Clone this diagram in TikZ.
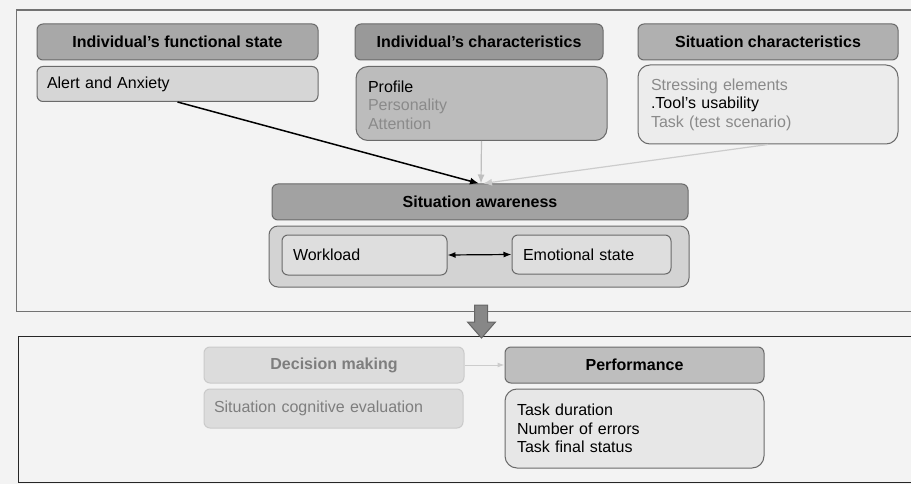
\documentclass[tikz,border=0pt]{standalone}
\usepackage{fontspec}
\setmainfont{Liberation Sans}
\usetikzlibrary{arrows.meta}
\definecolor{bgc}{HTML}{F3F3F3}
\definecolor{framec}{HTML}{727272}
\definecolor{edgec}{HTML}{6A6A6A}
\definecolor{hdrA}{HTML}{A8A8A8}
\definecolor{hdrB}{HTML}{999999}
\definecolor{hdrC}{HTML}{B0B0B0}
\definecolor{hdrSA}{HTML}{A2A2A2}
\definecolor{hdrP}{HTML}{BEBEBE}
\definecolor{alertc}{HTML}{D6D6D6}
\definecolor{charc}{HTML}{BCBCBC}
\definecolor{sitc}{HTML}{ECECEC}
\definecolor{contc}{HTML}{D3D3D3}
\definecolor{innc}{HTML}{DEDEDE}
\definecolor{dmc}{HTML}{DCDCDC}
\definecolor{perfl}{HTML}{E7E7E7}
\definecolor{greytext}{HTML}{8A8A8A}
\definecolor{dmtext}{HTML}{7E7E7E}
\begin{document}
\begin{tikzpicture}[x=1pt,y=-1pt,
  every node/.style={font=\fontsize{16}{18.5}\selectfont, inner sep=0pt},
  hdr/.style={draw=edgec, line width=1pt, rounded corners=6pt, font=\fontsize{16}{18.5}\selectfont\bfseries, align=center},
  listbox/.style={draw=edgec, line width=1pt, rounded corners=12pt, align=left},
  smallbox/.style={draw=edgec, line width=1pt, rounded corners=6pt, align=left},
  tipA/.style={-{Latex[length=9pt,width=7pt]}}
]
\useasboundingbox (0,0) rectangle (911,484);
\fill[bgc] (0,0) rectangle (911,484);
% frames
\draw[framec, line width=1.3pt] (920,10) -- (16.5,10) -- (16.5,311.5) -- (920,311.5);
\draw[black!85, line width=1.6pt] (920,336.5) -- (18.5,336.5) -- (18.5,482.5) -- (920,482.5);

% top row headers
\node[hdr, fill=hdrA, minimum width=281pt, minimum height=36pt] (fs) at (177.5,42) {Individual’s functional state};
\node[hdr, fill=hdrB, minimum width=248pt, minimum height=36pt] (ic) at (479,42) {Individual’s characteristics};
\node[hdr, fill=hdrC, minimum width=260pt, minimum height=36pt] (sc) at (768,42) {Situation characteristics};

% content boxes
\node[smallbox, fill=alertc, minimum width=281pt, minimum height=35pt, text width=261pt] (alert) at (177.5,84) {Alert and Anxiety};
\node[listbox, fill=charc, minimum width=251pt, minimum height=74pt, text width=227pt] (chars) at (481.5,103.5) {\rule{0pt}{15pt}\textcolor{black}{Profile}\\\textcolor{greytext}{Personality}\\\textcolor{greytext}{Attention}};
\node[listbox, fill=sitc, minimum width=260pt, minimum height=79pt, text width=234pt] (sitl) at (768,104.5) {\textcolor{greytext}{Stressing elements}\\\textcolor{black}{.Tool’s usability}\\\textcolor{greytext}{Task (test scenario)}};

% situation awareness
\node[hdr, fill=hdrSA, minimum width=416pt, minimum height=36pt] (sa) at (480,202) {Situation awareness};
\node[listbox, fill=contc, minimum width=420pt, minimum height=61pt, rounded corners=9pt] (cont) at (479,256.5) {};
\node[smallbox, fill=innc, minimum width=165pt, minimum height=40pt, text width=143pt] (work) at (364.5,255) {Workload};
\node[smallbox, fill=innc, minimum width=159pt, minimum height=39pt, text width=137pt] (emo) at (591.5,254.5) {Emotional state};

% arrows into SA
\draw[black, line width=1.5pt, tipA] (alert.south) -- ([xshift=-1pt]sa.north);
\draw[black!25, line width=1.2pt, tipA] (chars.south) -- ([xshift=1pt]sa.north);
\draw[black!20, line width=1.2pt, tipA] (sitl.south) -- ([xshift=3pt]sa.north);
\draw[black, line width=1.2pt, {Latex[length=8pt,width=6pt]}-{Latex[length=8pt,width=6pt]}] (work.east) -- (emo.west);

% big down arrow
\coordinate (bigtip) at (481.5,338);
\draw[fill=black!47, draw=black!60, line width=1pt] (474.5,305) -- (487.5,305) -- (487.5,322) -- (495.5,322) -- (bigtip) -- (467.5,322) -- (474.5,322) -- cycle;

% bottom part
\node[hdr, fill=dmc, draw=dmc!92!black, text=dmtext, minimum width=260pt, minimum height=36pt] (dm) at (334,365) {Decision making};
\node[smallbox, fill=dmc, draw=dmc!92!black, text=dmtext, minimum width=259pt, minimum height=39pt, text width=239pt] (cog) at (333.5,408.5) {Situation cognitive evaluation};
\node[hdr, fill=hdrP, minimum width=259pt, minimum height=36pt] (perf) at (634.5,365) {Performance};
\node[listbox, fill=perfl, minimum width=259pt, minimum height=79pt, text width=235pt] (perfl) at (634.5,428.5) {Task duration\\Number of errors\\Task final status};
\draw[black!20, line width=1pt, -{Latex[length=7pt,width=5pt]}] (dm.east) -- (perf.west);
\end{tikzpicture}
\end{document}
